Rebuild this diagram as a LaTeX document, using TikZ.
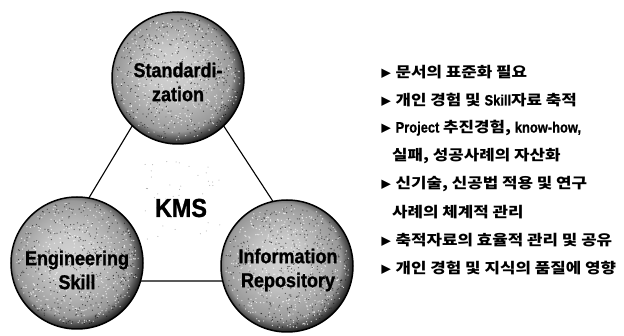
\documentclass[tikz,border=0pt]{standalone}
\usepackage{fontspec}
\setmainfont{Liberation Sans}
\newfontfamily\cond[FakeStretch=0.9,FakeBold=1.2]{Liberation Sans}
\newfontfamily\latn[FakeStretch=0.86,FakeBold=0.8]{Liberation Sans}
\newfontfamily\kr[FakeStretch=1.16]{Noto Sans CJK KR}
\usetikzlibrary{calc}
\newcommand{\mytri}{{\fontsize{10}{10}\selectfont ▶}}
\newcommand{\lt}[1]{{\latn\bfseries\fontsize{15}{16}\selectfont #1}}
\pgfdeclareradialshading{sphere}{\pgfpoint{-3bp}{3bp}}{%
 color(0bp)=(gray!36); color(9bp)=(gray!44); color(16bp)=(gray!62);
 color(22bp)=(gray!80); color(26bp)=(black!82); color(28bp)=(black); color(50bp)=(black)}
\tikzset{
  ball/.style={circle, minimum size=132pt, inner sep=0pt, shading=sphere, draw=black, line width=1.5pt},
  balltext/.style={font=\cond\bfseries\fontsize{20}{24}\selectfont, align=center, text=black},
  conn/.style={line width=1.1pt, draw=black},
  item/.style={anchor=west, font=\kr\bfseries\fontsize{14.5}{16}\selectfont, inner sep=0pt},
}
\begin{document}
\begin{tikzpicture}[x=1pt,y=-1pt]
\useasboundingbox (0,0) rectangle (624,336);
\fill[white] (0,0) rectangle (624,336);
% triangle
\coordinate (tv) at (176,53);
\coordinate (lv) at (39,281);
\coordinate (rv) at (325,281);
\draw[conn] (tv) -- (lv) -- (rv) -- cycle;
% balls
\node[ball] (nTop) at (178,78) {};
\node[ball] (nLeft) at (77,263) {};
\node[ball] (nRight) at (287,266) {};
\pgfmathsetseed{42}
\foreach \c in {nTop,nLeft,nRight}{
  \foreach \i in {1,...,450}{
    \pgfmathsetmacro\a{360*rnd}
    \pgfmathsetmacro\rr{62*sqrt(rnd)}
    \fill[white,opacity=0.7] ($(\c)+(\a:\rr)$) circle[radius=0.7];
  }
  \foreach \i in {1,...,380}{
    \pgfmathsetmacro\a{360*rnd}
    \pgfmathsetmacro\rr{62*sqrt(rnd)}
    \fill[black,opacity=0.55] ($(\c)+(\a:\rr)$) circle[radius=0.65];
  }
}
% specks in the triangle
\foreach \i in {1,...,40}{
  \pgfmathsetmacro\px{140+80*rnd}
  \pgfmathsetmacro\py{160+80*rnd}
  \fill[gray!70] (\px,\py) circle[radius=0.5];
}
% labels
\node[balltext] (tTop) at (178,82) {Standardi-\\zation};
\node[balltext] (tLeft) at (77,270) {Engineering\\Skill};
\node[balltext] (tRight) at (288,270) {Information\\Repository};
\node[font=\cond\bfseries\fontsize{26}{28}\selectfont] (kms) at (181,208) {KMS};
% list
\node[item] (l1) at (380,72)  {\mytri\ 문서의 표준화 필요};
\node[item] (l2) at (380,100) {\mytri\ 개인 경험 및 \lt{Skill}자료 축적};
\node[item] (l3) at (380,128) {\mytri\ \lt{Project} 추진경험, \lt{know-how,}};
\node[item] (l4) at (392,156) {실패, 성공사례의 자산화};
\node[item] (l5) at (380,184) {\mytri\ 신기술, 신공법 적용 및 연구};
\node[item] (l6) at (392,212) {사례의 체계적 관리};
\node[item] (l7) at (380,240) {\mytri\ 축적자료의 효율적 관리 및 공유};
\node[item] (l8) at (380,268) {\mytri\ 개인 경험 및 지식의 품질에 영향};
\end{tikzpicture}
\end{document}
